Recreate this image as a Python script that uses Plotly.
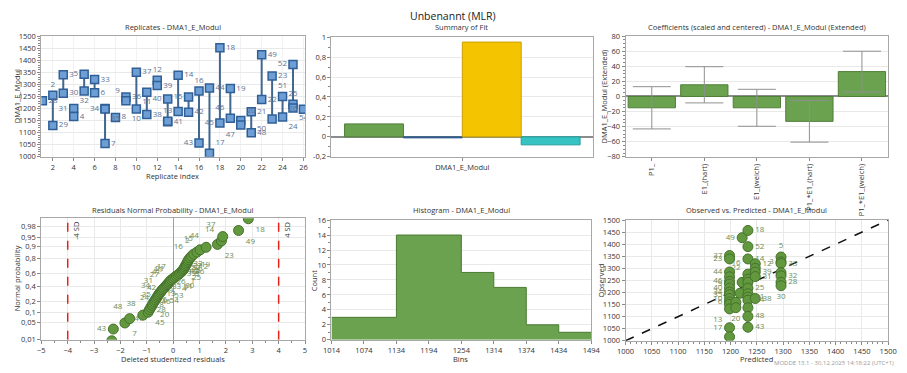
import plotly.graph_objects as go
from statistics import NormalDist

W, H = 907, 373
FONT = "Open Sans"

# ---------------- data ----------------
# Replicates
rep_index = [1, 2, 2, 3, 3, 4, 4, 5, 5, 6, 6, 7, 7, 7, 8, 9, 9, 10, 10, 11, 11, 12, 12, 13, 13, 13,
             14, 14, 15, 15, 16, 16, 17, 17, 18, 18, 19, 19, 20, 20, 21, 21, 22, 22, 23, 23,
             24, 24, 25, 25, 25, 26]
rep_value = [1232, 1255, 1130, 1340, 1263, 1200, 1167, 1342, 1273, 1320, 1265, 1200, 1198, 1055, 1163,
             1248, 1232, 1350, 1198, 1268, 1175, 1317, 1295, 1240, 1145, 1147,
             1338, 1188, 1248, 1185, 1273, 1057, 1285, 1015, 1452, 1140, 1283, 1160, 1150, 1132,
             1187, 1100, 1423, 1237, 1335, 1157, 1250, 1165, 1383, 1218, 1202, 1197]
rep_label = ["28", "2", "29", "3", "30", "31", "4", "5", "32", "33", "6", "34", "35", "7", "8",
             "36", "9", "37", "10", "11", "38", "12", "39", "40", "41", "13",
             "14", "", "15", "42", "16", "43", "44", "17", "18", "45", "19", "46", "20", "47",
             "21", "48", "49", "22", "23", "50", "51", "24", "52", "25", "54", "26"]
rep_pos = ["middle right", "top center", "middle right", "middle right", "middle right", "middle left",
           "middle right", "middle left", "bottom center", "middle right", "middle right", "middle left",
           "bottom right", "middle right", "middle right", "middle right", "top left", "middle right",
           "bottom center", "bottom center", "middle right", "top center", "middle right", "middle left",
           "middle right", "top center", "middle right", "middle right", "middle left", "middle right",
           "top center", "middle left", "middle right", "top right", "middle right", "middle left",
           "middle right", "top left", "top right", "bottom left", "middle right", "middle right",
           "middle right", "middle right", "middle right", "bottom left", "top center", "bottom right",
           "middle left", "top center", "bottom right", "middle left"]

# Summary of fit
fit_names = ["R2", "Q2", "Model validity", "Reproducibility"]
fit_values = [0.13, -0.01, 0.95, -0.08]
fit_colors = ["#6aa24f", "#3f72ad", "#f5c400", "#37c3c3"]
fit_lines = ["#4f7f38", "#2c5686", "#c9a000", "#239c9c"]
fit_category = "DMA1_E_Modul"

# Coefficients
coef_terms = ["P1_", "E1_(hart)", "E1_(weich)", "P1_*E1_(hart)", "P1_*E1_(weich)"]
coef_values = [-15, 15.5, -15, -33, 33]
coef_err = [28, 24, 24.5, 27.5, 27]

# Normal probability
npp_resid = [-2.33, -2.27, -1.83, -1.65, -1.15, -0.95, -0.90, -0.85, -0.80, -0.77, -0.72, -0.68, -0.64,
             -0.60, -0.57, -0.53, -0.49, -0.45, -0.41, -0.37, -0.32, -0.27, -0.23, -0.19, -0.15, -0.11,
             -0.06, 0.0, 0.06, 0.12, 0.18, 0.24, 0.29, 0.34, 0.38, 0.41, 0.44, 0.47, 0.50, 0.53, 0.56,
             0.59, 0.64, 0.70, 0.78, 0.90, 1.02, 1.25, 1.68, 1.83, 1.88, 2.48, 2.85]
npp_prob = [0.009, 0.028, 0.047, 0.066, 0.085, 0.104, 0.123, 0.142, 0.16, 0.179, 0.198, 0.217, 0.236,
            0.255, 0.274, 0.292, 0.311, 0.33, 0.349, 0.368, 0.387, 0.406, 0.425, 0.443, 0.462, 0.481,
            0.5, 0.519, 0.538, 0.557, 0.575, 0.594, 0.613, 0.632, 0.651, 0.67, 0.689, 0.708, 0.726,
            0.745, 0.764, 0.783, 0.802, 0.821, 0.84, 0.858, 0.877, 0.896, 0.915, 0.934, 0.953, 0.972, 0.991]
npp_label = ["", "43", "7", "48", "38", "45", "28", "47", "8", "20", "46", "6", "24",
             "34", "35", "13", "31", "9", "54", "42", "33", "27", "53", "41", "26", "11",
             "21", "17", "4", "51", "30", "39", "10", "40", "1", "50", "25", "22", "32", "3", "36",
             "5", "16", "12", "19", "2", "15", "44", "23", "14", "37", "49", "18"]
npp_pos = ["middle left", "middle left", "bottom right", "top left", "top left", "bottom right",
           "middle right", "bottom left", "middle right", "bottom right", "middle right", "middle right",
           "middle left", "top left", "middle left", "middle right", "top left", "middle right",
           "bottom right", "middle left", "middle right", "top left", "bottom right", "top left",
           "middle right", "top left", "top left", "top left", "bottom right", "bottom right",
           "bottom right", "middle right", "middle right", "middle right", "bottom right", "middle right",
           "bottom right", "middle right", "middle right", "bottom right", "bottom right",
           "bottom right", "top left", "bottom right", "bottom right", "top left", "top left",
           "top left", "bottom right", "top left", "top left", "bottom right", "bottom right"]
sd_lines = [-4, 4]
sd_labels = ["-4 SD", "4 SD"]

# Histogram
hist_edges = [1014, 1074, 1134, 1194, 1254, 1314, 1374, 1434, 1494]
hist_counts = [3, 3, 14, 14, 9, 7, 2, 1]

# Observed vs predicted
op_pred = [1198, 1198, 1198, 1198, 1198, 1198, 1198, 1198, 1198, 1198, 1198, 1198, 1198, 1198, 1198,
           1210, 1210, 1218,
           1222, 1222,
           1233, 1233, 1233, 1233, 1233, 1233, 1233, 1233, 1233, 1233, 1233, 1233, 1233,
           1247, 1247, 1247, 1247, 1247,
           1296, 1296, 1296, 1296, 1296, 1296, 1296]
op_obs = [1353, 1339, 1285, 1265, 1246, 1235, 1218, 1202, 1191, 1175, 1161, 1151, 1132, 1054, 1016,
          1159, 1137, 1197,
          1427, 1242,
          1457, 1390, 1339, 1276, 1255, 1242, 1218, 1195, 1181, 1168, 1137, 1101, 1056,
          1319, 1300, 1285, 1266, 1175,
          1347, 1327, 1320, 1282, 1269, 1242, 1228]
op_label = ["37", "23", "44", "", "46", "9", "40", "34", "35", "10", "6", "", "13", "17", "",
            "", "20", "",
            "49", "2",
            "18", "52", "14", "16", "22", "", "25", "", "41", "24", "", "48", "43",
            "12", "", "39", "31", "38",
            "5", "3", "33", "", "32", "28", "30"]
op_pos = ["middle left", "middle left", "middle left", "middle left", "middle left", "middle left",
          "middle left", "middle left", "middle left", "middle left", "middle left", "middle left",
          "bottom left", "middle left", "middle left",
          "middle left", "bottom center", "middle left",
          "middle left", "middle left",
          "middle right", "middle right", "middle right", "top left", "top left", "middle right",
          "middle right", "middle right", "middle right", "middle right", "middle right", "middle right",
          "middle right",
          "middle right", "middle right", "middle right", "middle right", "middle right",
          "top center", "middle left", "middle right", "middle right", "middle right", "middle right",
          "bottom center"]

# ---------------- figure ----------------
fig = go.Figure()

def px(x):
    return x / W

def py(y):
    return 1 - y / H

domains = {
    1: ([px(33), px(302)], [py(156), py(32)]),
    2: ([px(329), px(596)], [py(156), py(33)]),
    3: ([px(629), px(897)], [py(156), py(32)]),
    4: ([px(33), px(302)], [py(344), py(219)]),
    5: ([px(329), px(594)], [py(344), py(221)]),
    6: ([px(629), px(897)], [py(345), py(221)]),
}

TICKFONT = dict(family=FONT, size=7.5, color="#333333")
MINOR = dict(ticks="outside", ticklen=2, tickcolor="#8a8a8a", showgrid=False)
base_axis = dict(showline=True, linecolor="#a8a8a8", linewidth=1, mirror=True,
                 gridcolor="#e9e9e9", ticks="outside", ticklen=3, tickcolor="#8a8a8a",
                 tickfont=TICKFONT, zeroline=False)
layout_axes = {}
for i in range(1, 7):
    sx = "" if i == 1 else str(i)
    layout_axes["xaxis" + sx] = dict(base_axis, domain=domains[i][0], anchor="y" + sx)
    layout_axes["yaxis" + sx] = dict(base_axis, domain=domains[i][1], anchor="x" + sx)

# Panel 1: replicates
groups = {}
for ix, v in zip(rep_index, rep_value):
    groups.setdefault(ix, []).append(v)
lx, ly = [], []
for ix, vals in groups.items():
    if len(vals) > 1:
        lx += [ix, ix, None]
        ly += [min(vals), max(vals), None]
fig.add_trace(go.Scatter(x=lx, y=ly, mode="lines", line=dict(color="#41678f", width=2),
                         xaxis="x", yaxis="y", hoverinfo="skip", showlegend=False))
fig.add_trace(go.Scatter(x=rep_index, y=rep_value, mode="markers+text", text=rep_label,
                         textposition=rep_pos,
                         textfont=dict(family=FONT, size=8, color="#5d7494"),
                         marker=dict(symbol="square", size=8, color="#6d9fd6",
                                     line=dict(color="#2f5f95", width=1.5)),
                         xaxis="x", yaxis="y", showlegend=False, cliponaxis=True))
layout_axes["xaxis"].update(range=[0.9, 26.15], tickvals=list(range(2, 27, 2)), showgrid=True,
                            gridcolor="#f2f2f2")
layout_axes["yaxis"].update(range=[1000, 1500], dtick=50, minor=dict(MINOR, nticks=5))

# Panel 2: summary of fit
for n, v, c, lc in zip(fit_names, fit_values, fit_colors, fit_lines):
    fig.add_trace(go.Bar(x=[fit_category], y=[v], name=n, marker=dict(color=c, line=dict(color=lc, width=1)),
                         xaxis="x2", yaxis="y2", showlegend=False))
layout_axes["xaxis2"].update(showgrid=False)
layout_axes["yaxis2"].update(range=[-0.2, 1.0], tickvals=[-0.2, 0, 0.2, 0.4, 0.6, 0.8, 1],
                             ticktext=["-0,2", "0", "0,2", "0,4", "0,6", "0,8", "1"],
                             zeroline=True, zerolinecolor="#8c8c8c", zerolinewidth=1.5,
                             minor=dict(MINOR, nticks=3))

# Panel 3: coefficients
fig.add_trace(go.Bar(x=coef_terms, y=coef_values, marker=dict(color="#6aa24f", line=dict(color="#4f7f38", width=1)),
                     error_y=dict(type="data", array=coef_err, color="#8f8f8f", thickness=1, width=19),
                     xaxis="x3", yaxis="y3", showlegend=False))
layout_axes["xaxis3"].update(showgrid=False, tickangle=-90)
layout_axes["yaxis3"].update(range=[-80, 80], dtick=20, zeroline=True, zerolinecolor="#8c8c8c",
                             zerolinewidth=1.5, minor=dict(MINOR, nticks=5))

# Panel 4: normal probability
nd = NormalDist()
npp_z = [nd.inv_cdf(p) for p in npp_prob]
prob_ticks = [0.01, 0.05, 0.1, 0.2, 0.4, 0.6, 0.8, 0.9, 0.95, 0.98]
prob_text = [str(p).replace(".", ",") for p in prob_ticks]
fig.add_trace(go.Scatter(x=npp_resid, y=npp_z, mode="markers+text", text=npp_label, textposition=npp_pos,
                         textfont=dict(family=FONT, size=8, color="#6b8c55"),
                         marker=dict(size=10, color="#62993f", line=dict(color="#46722c", width=1)),
                         xaxis="x4", yaxis="y4", showlegend=False))
zlo = nd.inv_cdf(0.01)
ztop = 2.39
for xv in sd_lines:
    fig.add_trace(go.Scatter(x=[xv, xv], y=[zlo, ztop], mode="lines",
                             line=dict(color="#e8201a", width=1.5, dash="dash"),
                             xaxis="x4", yaxis="y4", showlegend=False, hoverinfo="skip"))
layout_axes["xaxis4"].update(range=[-5, 5], dtick=1, zeroline=True, zerolinecolor="#a0a0a0", zerolinewidth=1,
                             minor=dict(MINOR, nticks=3))
layout_axes["yaxis4"].update(range=[zlo, ztop], tickvals=[nd.inv_cdf(p) for p in prob_ticks],
                             ticktext=prob_text)

# Panel 5: histogram
fig.add_trace(go.Scatter(x=hist_edges, y=hist_counts + [hist_counts[-1]], mode="lines", line_shape="hv",
                         fill="tozeroy", fillcolor="#6aa24f", line=dict(color="#4a7a33", width=1),
                         xaxis="x5", yaxis="y5", showlegend=False))
layout_axes["xaxis5"].update(range=[1014, 1494], tickvals=hist_edges, showgrid=False)
layout_axes["yaxis5"].update(range=[0, 16], dtick=2, minor=dict(MINOR, nticks=3))

# Panel 6: observed vs predicted
fig.add_trace(go.Scatter(x=[1000, 1500], y=[1000, 1500], mode="lines",
                         line=dict(color="#111111", width=1.5, dash="dash"),
                         xaxis="x6", yaxis="y6", showlegend=False, hoverinfo="skip"))
fig.add_trace(go.Scatter(x=op_pred, y=op_obs, mode="markers+text", text=op_label, textposition=op_pos,
                         textfont=dict(family=FONT, size=8, color="#6b8c55"),
                         marker=dict(size=10, color="#62993f", line=dict(color="#46722c", width=1)),
                         xaxis="x6", yaxis="y6", showlegend=False))
layout_axes["xaxis6"].update(range=[1000, 1500], dtick=50, minor=dict(MINOR, nticks=5))
layout_axes["yaxis6"].update(range=[1000, 1500], dtick=50)

# ---------------- annotations ----------------
ann = []
def text(x, y, s, size=7.5, color="#333333", angle=0, xanchor="center", yanchor="middle"):
    ann.append(dict(x=px(x), y=py(y), xref="paper", yref="paper", text=s, showarrow=False,
                    font=dict(family=FONT, size=size, color=color), textangle=angle,
                    xanchor=xanchor, yanchor=yanchor))

text(453, 11, "Unbenannt (MLR)", size=10.5, color="#222222")
text(167, 23, "Replicates - DMA1_E_Modul")
text(462, 23, "Summary of Fit")
text(763, 23, "Coefficients (scaled and centered) - DMA1_E_Modul (Extended)")
text(167, 211, "Residuals Normal Probability - DMA1_E_Modul")
text(462, 211, "Histogram - DMA1_E_Modul")
text(763, 211, "Observed vs. Predicted - DMA1_E_Modul")
text(167, 176, "Replicate index")
text(9, 94, "DMA1_E_Modul", angle=-90)
text(608, 94, "DMA1_E_Modul (Extended)", angle=-90)
text(167, 364, "Deleted studentized residuals")
text(9, 281, "Normal probability", angle=-90)
text(461, 364, "Bins")
text(312, 283, "Count", angle=-90)
text(763, 364, "Predicted")
text(604, 283, "Observed", angle=-90)
text(905, 368, "MODDE 13.1 - 30.12.2025 14:18:22 (UTC+1)", size=6, color="#9a9a9a", xanchor="right")
for xv, lab in zip(sd_lines, sd_labels):
    ann.append(dict(x=xv, y=ztop, xref="x4", yref="y4", text=lab, showarrow=False, textangle=-90,
                    font=dict(family=FONT, size=7.5, color="#333333"), xanchor="left", yanchor="top",
                    xshift=1, yshift=-2))

fig.update_layout(width=W, height=H, margin=dict(l=0, r=0, t=0, b=0),
                  paper_bgcolor="white", plot_bgcolor="white",
                  font=dict(family=FONT, size=8, color="#333333"),
                  barmode="group", bargap=0.1, bargroupgap=0.0,
                  annotations=ann, showlegend=False, **layout_axes)

fig.write_html("out.html", config={"displayModeBar": False},
               post_script="document.body.style.margin='0';")
